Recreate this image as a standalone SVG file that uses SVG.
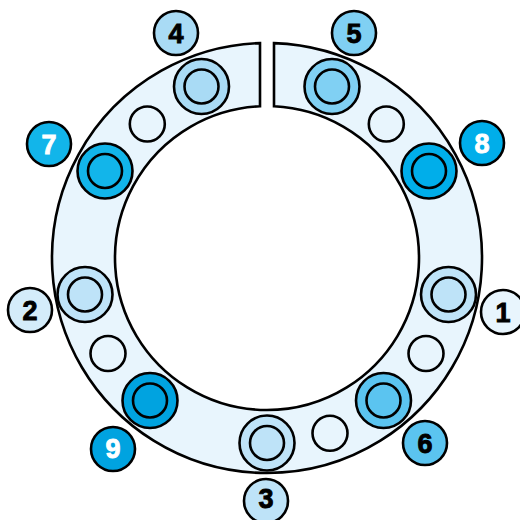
<svg xmlns="http://www.w3.org/2000/svg" width="520" height="520" viewBox="0 0 520 520">
<style>
.ln{stroke:#000;stroke-width:2.6;}
.ring{fill:#E8F5FD;}
.hole{fill:#E8F5FD;}
.lbl{font-family:"Liberation Sans",Arial,sans-serif;font-weight:bold;font-size:27px;text-anchor:middle;stroke-width:0.9;}
.dk{fill:#000;stroke:#000;}
.wt{fill:#fff;stroke:#fff;}
</style>
<rect width="520" height="520" fill="#fff"/>
<g id="ring">
<path class="ring ln" d="M274 43.1 A215 215 0 1 1 260 43.1 L260 106.2 A152 152 0 1 0 274 106.2 Z"/>
</g>
<g id="holes">
<circle class="hole ln" cx="147.3" cy="124" r="17.5"/>
<circle class="hole ln" cx="386.3" cy="124" r="17.5"/>
<circle class="hole ln" cx="108" cy="353.5" r="17.5"/>
<circle class="hole ln" cx="426" cy="353.5" r="17.5"/>
<circle class="hole ln" cx="330" cy="433.3" r="17.5"/>
</g>
<g id="bolt1"><circle class="ln" cx="448.5" cy="294.5" r="27.5" fill="#BEE3F8"/><circle class="ln" cx="448.5" cy="294.5" r="17" fill="#BEE3F8"/></g>
<g id="bolt2"><circle class="ln" cx="85" cy="294.5" r="27.5" fill="#BEE3F8"/><circle class="ln" cx="85" cy="294.5" r="17" fill="#BEE3F8"/></g>
<g id="bolt3"><circle class="ln" cx="267" cy="443" r="27.5" fill="#BEE3F8"/><circle class="ln" cx="267" cy="443" r="17" fill="#BEE3F8"/></g>
<g id="bolt4"><circle class="ln" cx="201.5" cy="86.5" r="27.5" fill="#A9DBF5"/><circle class="ln" cx="201.5" cy="86.5" r="17" fill="#A9DBF5"/></g>
<g id="bolt5"><circle class="ln" cx="332" cy="86.5" r="27.5" fill="#80D0F3"/><circle class="ln" cx="332" cy="86.5" r="17" fill="#80D0F3"/></g>
<g id="bolt6"><circle class="ln" cx="383.5" cy="400.5" r="27.5" fill="#5BC4F0"/><circle class="ln" cx="383.5" cy="400.5" r="17" fill="#5BC4F0"/></g>
<g id="bolt7"><circle class="ln" cx="105" cy="171" r="27.5" fill="#12B5EA"/><circle class="ln" cx="105" cy="171" r="17" fill="#12B5EA"/></g>
<g id="bolt8"><circle class="ln" cx="429" cy="171" r="27.5" fill="#00AEEA"/><circle class="ln" cx="429" cy="171" r="17" fill="#00AEEA"/></g>
<g id="bolt9"><circle class="ln" cx="150" cy="400.5" r="27.5" fill="#00A3E0"/><circle class="ln" cx="150" cy="400.5" r="17" fill="#00A3E0"/></g>
<g id="label1"><circle class="ln" cx="503" cy="312" r="22" fill="#E8F5FD"/><text class="lbl dk" x="503" y="321.8">1</text></g>
<g id="label2"><circle class="ln" cx="30" cy="310" r="22" fill="#D4ECFA"/><text class="lbl dk" x="30" y="319.8">2</text></g>
<g id="label3"><circle class="ln" cx="266" cy="501" r="22" fill="#BEE3F8"/><text class="lbl dk" x="266" y="508">3</text></g>
<g id="label4"><circle class="ln" cx="176" cy="33" r="22" fill="#A9DBF5"/><text class="lbl dk" x="176" y="42.8">4</text></g>
<g id="label5"><circle class="ln" cx="354" cy="33" r="22" fill="#80D0F3"/><text class="lbl dk" x="354" y="42.8">5</text></g>
<g id="label6"><circle class="ln" cx="425" cy="443" r="22" fill="#5BC4F0"/><text class="lbl dk" x="425" y="452.8">6</text></g>
<g id="label7"><circle class="ln" cx="49" cy="144" r="22" fill="#12B5EA"/><text class="lbl wt" x="49" y="153.8">7</text></g>
<g id="label8"><circle class="ln" cx="482" cy="143" r="22" fill="#00AEEA"/><text class="lbl wt" x="482" y="152.8">8</text></g>
<g id="label9"><circle class="ln" cx="113" cy="449" r="22" fill="#00A3E0"/><text class="lbl wt" x="113" y="458.3">9</text></g>
</svg>
